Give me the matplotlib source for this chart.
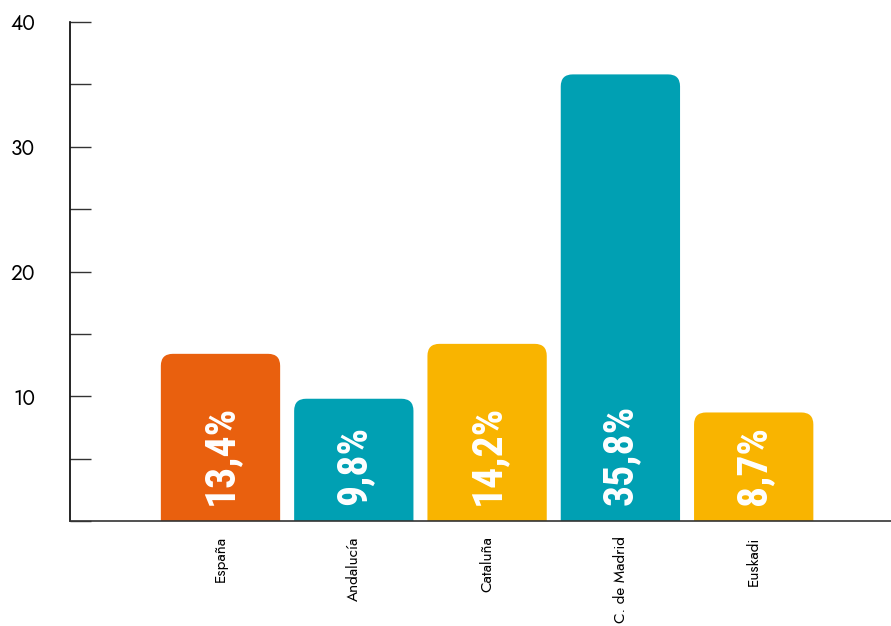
import matplotlib
matplotlib.use("Agg")
import matplotlib.pyplot as plt
from matplotlib.patches import FancyBboxPatch
from matplotlib.ticker import MultipleLocator

regions = ["España", "Andalucía", "Cataluña", "C. de Madrid", "Euskadi"]
values = [13.4, 9.8, 14.2, 35.8, 8.7]
labels = ["13,4%", "9,8%", "14,2%", "35,8%", "8,7%"]
colors = ["#E9600E", "#00A0B3", "#F9B400", "#00A0B3", "#F9B400"]

plt.rcParams['font.family'] = ['Jost', 'Lato', 'DejaVu Sans']

fig = plt.figure(figsize=(8.91, 6.26), dpi=100)
ax = fig.add_axes([70 / 891, 105 / 626, 821 / 891, 499 / 626])

bar_w = 0.895
ax.set_xlim(-1.129, 5.03)
ax.set_ylim(0, 40)

# px per data unit, used to keep the top corners round
x_px = 133.3
y_px = 12.475
r = 12 / x_px
for i, (v, c) in enumerate(zip(values, colors)):
    box = FancyBboxPatch((i - bar_w / 2, -2), bar_w, v + 2,
                         boxstyle=f"round,pad=0,rounding_size={r}",
                         mutation_aspect=x_px / y_px,
                         facecolor=c, edgecolor='none', clip_on=True)
    ax.add_patch(box)

for i, lab in enumerate(labels):
    ax.annotate(lab, (i, 0), xytext=(0, 11.5), textcoords='offset points',
                rotation=90, ha='center', va='bottom', color='white',
                fontsize=30, fontweight='bold',
                family=['Roboto Condensed', 'Oswald', 'DejaVu Sans'])

ax.set_xticks(range(len(regions)))
ax.set_xticklabels(regions, rotation=90, fontsize=11)
ax.tick_params(axis='x', length=0, pad=11)

ax.yaxis.set_major_locator(MultipleLocator(10))
ax.yaxis.set_minor_locator(MultipleLocator(5))
ax.set_yticks([10, 20, 30, 40])
ax.tick_params(axis='y', which='both', direction='in', length=15, width=1,
               color='#333333', pad=25, labelsize=15)
for t in ax.get_yticklabels():
    t.set_fontweight(600)

for s in ['top', 'right']:
    ax.spines[s].set_visible(False)
ax.spines['left'].set_linewidth(1.2)
ax.spines['bottom'].set_linewidth(1.2)
ax.spines['bottom'].set_color('#333333')

fig.savefig("out.png", dpi=100)
